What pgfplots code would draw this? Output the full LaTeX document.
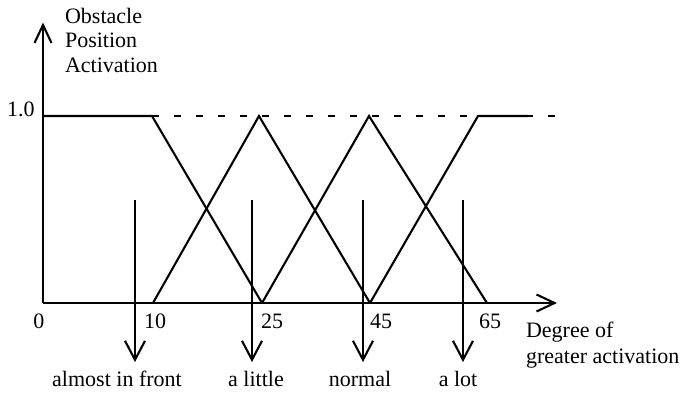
\documentclass[border=0pt]{standalone}
\usepackage{fontspec}
\setmainfont{Liberation Serif}
\usepackage{pgfplots}
\pgfplotsset{compat=1.18}
\usetikzlibrary{arrows.meta}
\begin{document}
\begin{tikzpicture}[font=\fontsize{11}{12.5}\selectfont]
\useasboundingbox (-21.5pt,-44.5pt) rectangle (319pt,151.5pt);
\begin{axis}[
  x=0.5pt, y=93.5pt, anchor=origin, at={(0,0)},
  xmin=-4, xmax=514, ymin=0, ymax=1.5,
  axis lines=middle, axis line style={draw=none},
  clip=false,
  xtick={-4,112,229,338,447}, xticklabels={0,10,25,45,65},
  ytick={1}, yticklabels={1.0},
  major tick length=0pt,
  /pgf/number format/assume math mode=true,
  xticklabel style={anchor=base, yshift=-12.5pt, inner sep=0pt, font=\fontsize{11}{12.5}\selectfont},
  yticklabel style={anchor=base east, xshift=-4pt, inner sep=0pt, font=\fontsize{11}{12.5}\selectfont},
  every node/.append style={inner sep=0pt},
]
% axes
\addplot[black, line width=1.05pt, -{Straight Barb[length=9pt,width=8.5pt]}] coordinates {(0,0) (514,0)};
\addplot[black, line width=1.05pt, -{Straight Barb[length=9pt,width=8.5pt]}] coordinates {(0,0) (0,1.5)};
% membership functions
\addplot[black, line width=1.05pt] coordinates {(0,1) (109,1) (219,0)};
\addplot[black, line width=1.05pt] coordinates {(110,0) (216,1) (327,0)};
\addplot[black, line width=1.05pt] coordinates {(219,0) (326,1) (444,0)};
\addplot[black, line width=1.05pt] coordinates {(327,0) (435,1) (485,1)};
\addplot[black, line width=0.8pt, dash pattern=on 3.5pt off 7.5pt] coordinates {(109,1) (514,1)};
% down arrows
\addplot[black, line width=1.05pt, -{Straight Barb[length=9.5pt,width=10pt]}] coordinates {(92,0.551) (92,-0.316)};
\addplot[black, line width=1.05pt, -{Straight Barb[length=9.5pt,width=10pt]}] coordinates {(209,0.551) (209,-0.316)};
\addplot[black, line width=1.05pt, -{Straight Barb[length=9.5pt,width=10pt]}] coordinates {(320,0.551) (320,-0.316)};
\addplot[black, line width=1.05pt, -{Straight Barb[length=9.5pt,width=10pt]}] coordinates {(420,0.551) (420,-0.316)};
% labels
\node[anchor=base] at (axis cs:74,-0.449) {almost in front};
\node[anchor=base] at (axis cs:213,-0.449) {a little};
\node[anchor=base] at (axis cs:317,-0.449) {normal};
\node[anchor=base] at (axis cs:415,-0.449) {a lot};
\node[anchor=base west] at (axis cs:476,-0.182) {Degree of};
\node[anchor=base west] at (axis cs:476,-0.321) {greater activation};
\node[anchor=base west] at (axis cs:15,1.497) {Obstacle};
\node[anchor=base west] at (axis cs:15,1.364) {Position};
\node[anchor=base west] at (axis cs:15,1.230) {Activation};
\end{axis}
\end{tikzpicture}
\end{document}
